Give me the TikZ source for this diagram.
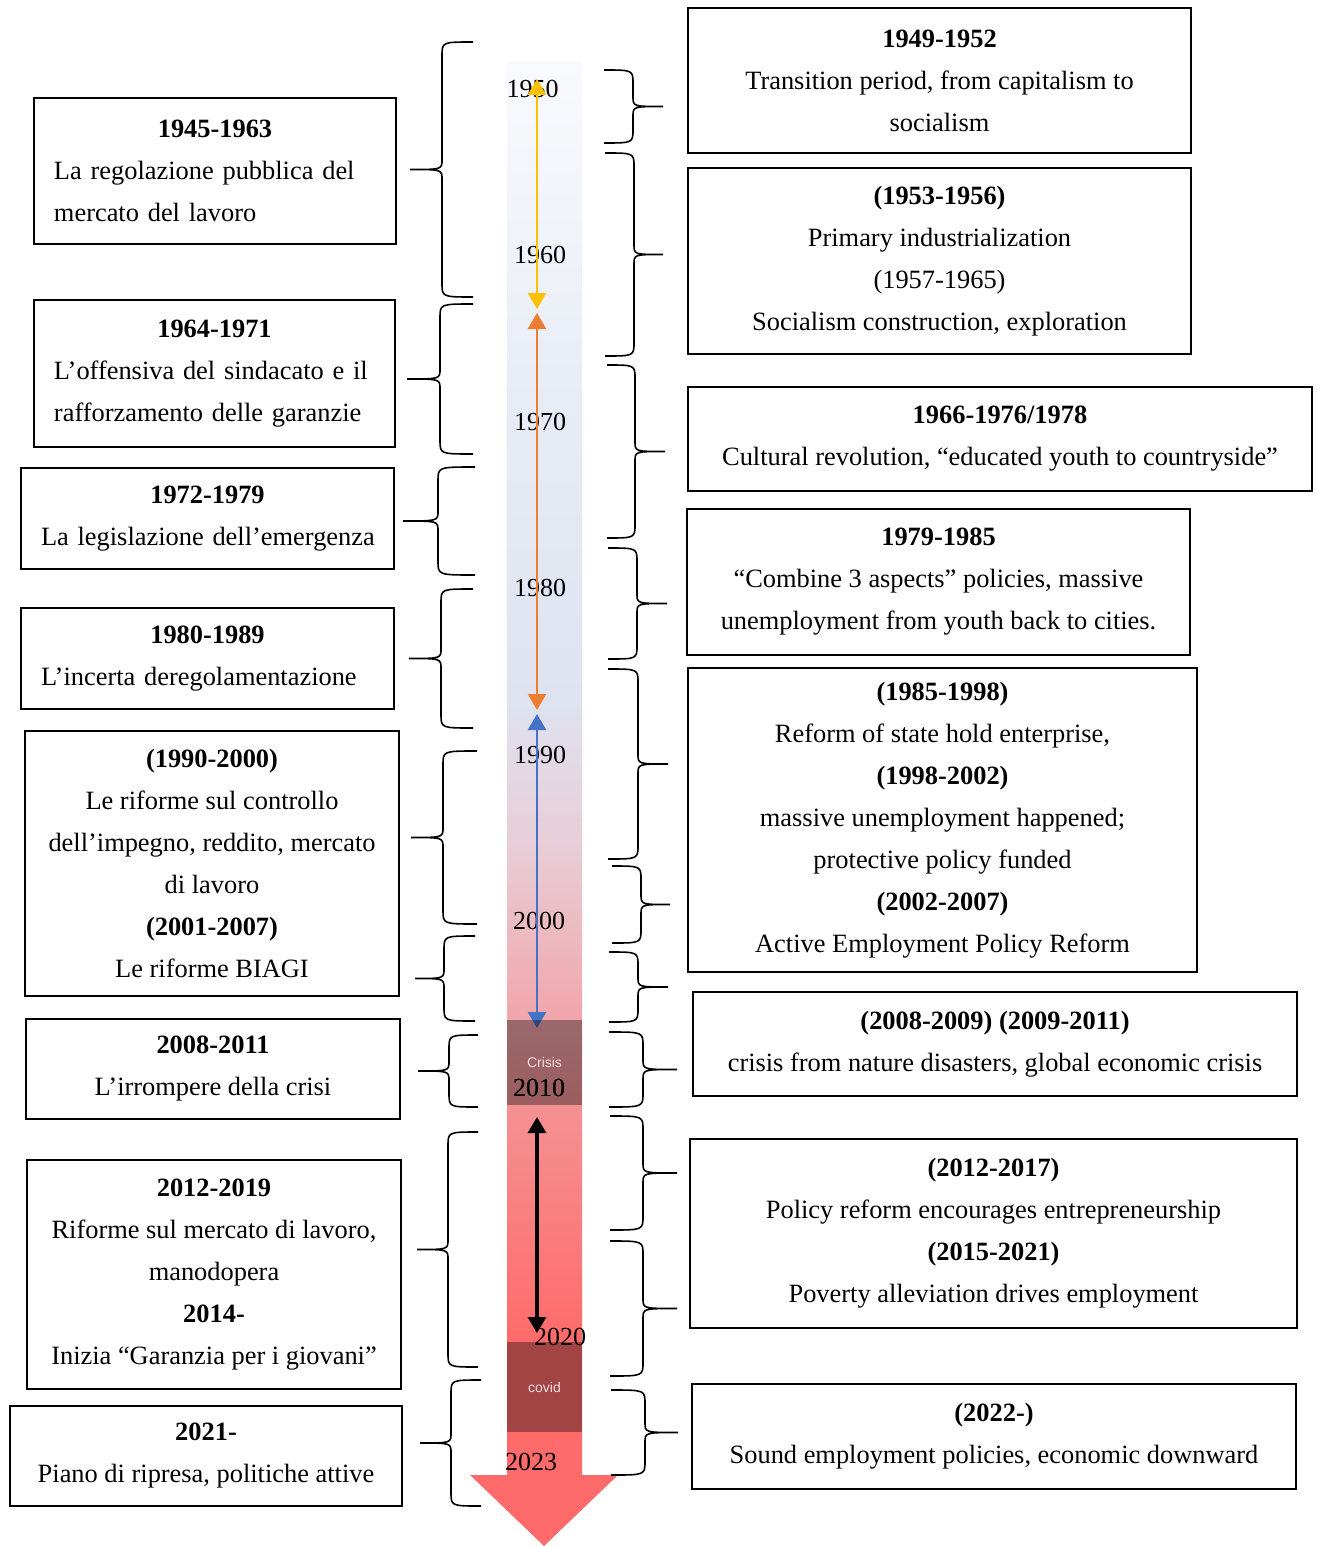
\documentclass[tikz,border=0pt]{standalone}
\usepackage{fontspec}
\setmainfont{Liberation Serif}
\setsansfont{Liberation Sans}
\usepackage{tikz}
\usetikzlibrary{arrows.meta}

\definecolor{barTop}{HTML}{F9FAFD}
\definecolor{barB}{HTML}{E8ECF5}
\definecolor{barC}{HTML}{DFE3F0}
\definecolor{barD}{HTML}{E8CDD6}
\definecolor{barE}{HTML}{F0AAB0}
\definecolor{barF}{HTML}{F59092}
\definecolor{barG}{HTML}{FF6B6B}
\definecolor{tlyellow}{HTML}{FFC000}
\definecolor{tlorange}{HTML}{ED7D31}
\definecolor{tlblue}{HTML}{4472C4}
\definecolor{tagtext}{HTML}{F3DEDE}

\pgfdeclareverticalshading{timebar}{100bp}{color(0bp)=(barG); color(29.8bp)=(barG);
  color(37.9bp)=(barF); color(41.8bp)=(barE); color(47.2bp)=(barD);
  color(52.5bp)=(barC); color(63.1bp)=(barB); color(75bp)=(barTop); color(100bp)=(barTop)}

% #1 end x, #2 spine x, #3 tip x, #4 top y, #5 bottom y
\newcommand{\brc}[5]{%
  \pgfmathsetmacro{\brcmid}{(#4+#5)/2}%
  \draw[brc] (#1,#4) .. controls (#2,#4) .. ({#2},{#4+14}) -- ({#2},{\brcmid-10})
    .. controls (#2,\brcmid) .. (#3,\brcmid) .. controls (#2,\brcmid) .. ({#2},{\brcmid+10})
    -- ({#2},{#5-14}) .. controls (#2,#5) .. (#1,#5);}
\newcommand{\lline}[1]{\makebox[\linewidth][l]{#1}}

\begin{document}
\begin{tikzpicture}[x=0.5pt, y=-0.5pt,
  box/.style = {draw, line width=1pt, inner xsep=10pt, inner ysep=4pt, align=center,
    font=\fontsize{13.2}{21}\selectfont},
  yr/.style = {inner sep=0pt, font=\fontsize{13}{13}\selectfont},
  band/.style = {fill=black, fill opacity=0.36, text opacity=1, text=tagtext, inner sep=0pt,
    minimum width=37.5pt, font=\sffamily\fontsize{7}{8}\selectfont},
  tl/.style = {line width=1.3pt, >={Triangle[width=9pt,length=8pt]}, <->},
  brc/.style = {line width=0.8pt}]
\useasboundingbox (0,0) rectangle (1317,1546);

%% time bar
\shade[shading=timebar] (507,62) rectangle (582,1475);
\fill[barG] (470,1475) -- (618,1475) -- (544,1546) -- cycle;

%% years
\node[yr] (y1950) at (532.5,89) {1950};
\node[yr] (y1960) at (540,255) {1960};
\node[yr] (y1970) at (540,422) {1970};
\node[yr] (y1980) at (540,588) {1980};
\node[yr] (y1990) at (540,755) {1990};
\node[yr] (y2000) at (539,921) {2000};
\node[yr] (y2010) at (539,1088) {2010};
\node[yr] (y2020) at (560,1337) {2020};
\node[yr] (y2023) at (531,1462) {2023};

%% periods on the bar
\coordinate (ys) at (537,79);
\coordinate (ye) at (537,309);
\coordinate (os) at (537,313);
\coordinate (oe) at (537,710);
\coordinate (bs) at (537,714);
\coordinate (be) at (537,1028);
\coordinate (ks) at (537,1117);
\coordinate (ke) at (537,1333);
\draw[tl, tlyellow] (ys) -- (ye);
\draw[tl, tlorange] (os) -- (oe);
\draw[tl, tlblue] (bs) -- (be);
\draw[tl, line width=1.6pt, black] (ks) -- (ke);

\node[band, minimum height=42.5pt] (crisis) at (544.5,1062.5) {Crisis};
\node[band, minimum height=45pt] (covid) at (544.5,1387) {covid};
\node[yr] at (y2010) {2010};

%% Italy
\node[box, minimum width=181pt, minimum height=73pt, text width=161pt] (ita1) at (215,171)
  {\textbf{1945-1963}\\ \lline{La regolazione pubblica del}\\ \lline{mercato del lavoro}};
\node[box, minimum width=180.5pt, minimum height=73.5pt, text width=160.5pt] (ita2) at (214.5,373.5)
  {\textbf{1964-1971}\\ \lline{L’offensiva del sindacato e il}\\ \lline{rafforzamento delle garanzie}};
\node[box, minimum width=186.5pt, minimum height=50.5pt, text width=166.5pt] (ita3) at (207.5,518.5)
  {\textbf{1972-1979}\\ \lline{La legislazione dell’emergenza}};
\node[box, minimum width=186.5pt, minimum height=50.5pt, text width=166.5pt] (ita4) at (207.5,658.5)
  {\textbf{1980-1989}\\ \lline{L’incerta deregolamentazione}};
\node[box, minimum width=187pt, minimum height=132.5pt] (ita5) at (212,863.5)
  {\textbf{(1990-2000)}\\ Le riforme sul controllo\\ dell’impegno, reddito, mercato\\ di lavoro\\
   \textbf{(2001-2007)}\\ Le riforme BIAGI};
\node[box, minimum width=187pt, minimum height=50pt] (ita6) at (213,1069)
  {\textbf{2008-2011}\\ L’irrompere della crisi};
\node[box, minimum width=187pt, minimum height=114.5pt] (ita7) at (214,1274.5)
  {\textbf{2012-2019}\\ Riforme sul mercato di lavoro,\\ manodopera\\ \textbf{2014-}\\
   Inizia “Garanzia per i giovani”};
\node[box, minimum width=196pt, minimum height=50pt] (ita8) at (206,1456)
  {\textbf{2021-}\\ Piano di ripresa, politiche attive};

%% China
\node[box, minimum width=251.5pt, minimum height=72.5pt] (chn1) at (939.5,80.5)
  {\textbf{1949-1952}\\ Transition period, from capitalism to\\ socialism};
\node[box, minimum width=251.5pt, minimum height=93pt] (chn2) at (939.5,261)
  {\textbf{(1953-1956)}\\ Primary industrialization\\ (1957-1965)\\ Socialism construction, exploration};
\node[box, minimum width=312pt, minimum height=52pt] (chn3) at (1000,439)
  {\textbf{1966-1976/1978}\\ Cultural revolution, “educated youth to countryside”};
\node[box, minimum width=251.5pt, minimum height=73pt] (chn4) at (938.5,582)
  {\textbf{1979-1985}\\ “Combine 3 aspects” policies, massive\\ unemployment from youth back to cities.};
\node[box, minimum width=254.5pt, minimum height=152pt] (chn5) at (942.5,820)
  {\textbf{(1985-1998)}\\ Reform of state hold enterprise,\\ \textbf{(1998-2002)}\\
   massive unemployment happened;\\ protective policy funded\\ \textbf{(2002-2007)}\\
   Active Employment Policy Reform};
\node[box, minimum width=302pt, minimum height=52pt] (chn6) at (995,1044)
  {\textbf{(2008-2009) (2009-2011)}\\ crisis from nature disasters, global economic crisis};
\node[box, minimum width=303.5pt, minimum height=94.5pt] (chn7) at (993.5,1233.5)
  {\textbf{(2012-2017)}\\ Policy reform encourages entrepreneurship\\ \textbf{(2015-2021)}\\
   Poverty alleviation drives employment};
\node[box, minimum width=302pt, minimum height=52.5pt] (chn8) at (994,1436.5)
  {\textbf{(2022-)}\\ Sound employment policies, economic downward};

%%% braces, left side
\brc{473}{442}{410}{42}{297}
\brc{473}{440}{407}{304}{454}
\brc{475}{438}{403}{467}{575}
\brc{473}{441}{409}{589}{728}
\brc{477}{443}{411}{751}{924}
\brc{475}{444}{415}{936}{1021}
\brc{478}{449}{418}{1035}{1107}
\brc{478}{448}{417}{1132}{1367}
\brc{481}{451}{420}{1380}{1506}

%%% braces, right side
\brc{604}{633}{663}{70}{143}
\brc{605}{634}{663}{153}{356}
\brc{607}{635}{665}{365}{538}
\brc{608}{637}{667}{548}{659}
\brc{608}{638}{668}{669}{859}
\brc{612}{641}{670}{866}{943}
\brc{609}{638}{668}{952}{1022}
\brc{609}{643}{677}{1032}{1107}
\brc{610}{643}{677}{1116}{1230}
\brc{610}{643}{677}{1241}{1376}
\brc{611}{645}{678}{1390}{1475}

\end{tikzpicture}
\end{document}
